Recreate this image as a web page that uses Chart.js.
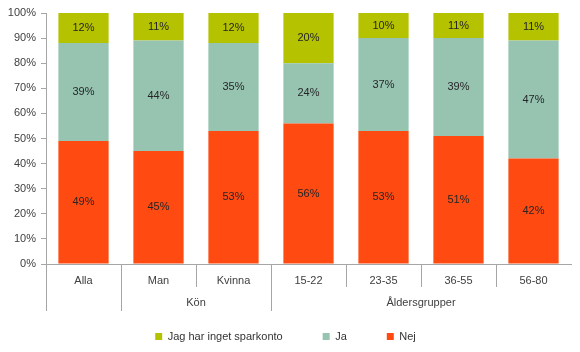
<!DOCTYPE html>
<html>
<head>
<meta charset="utf-8">
<script src="https://cdn.jsdelivr.net/npm/chart.js@4"></script>
<style>
  html, body { margin: 0; padding: 0; background: #fff; }
  #wrap { width: 580px; height: 352px; }
</style>
</head>
<body>
<div id="wrap"><canvas id="myChart" width="580" height="352"></canvas></div>
<script>
const categories = ['Alla', 'Man', 'Kvinna', '15-22', '23-35', '36-55', '56-80'];
const groupLabels = ['', 'Kön', 'Åldersgrupper'];
const groupSpans = [1, 2, 4];

const nejValues = [49, 45, 53, 56, 53, 51, 42];
const jaValues = [39, 44, 35, 24, 37, 39, 47];
const ingetValues = [12, 11, 12, 20, 10, 11, 11];

const FONT = 'Liberation Sans';
const AXIS_GREY = '#a6a6a6';

// values written in the middle of every segment
const barValues = {
  id: 'barValues',
  afterDatasetsDraw(chart) {
    const ctx = chart.ctx;
    ctx.save();
    ctx.font = '11px "' + FONT + '"';
    ctx.fillStyle = '#262626';
    ctx.textAlign = 'center';
    ctx.textBaseline = 'middle';
    chart.data.datasets.forEach((ds, i) => {
      chart.getDatasetMeta(i).data.forEach((bar, j) => {
        const top = Math.max(bar.y, chart.chartArea.top);
        ctx.fillText(ds.data[j] + '%', bar.x, (top + bar.base) / 2);
      });
    });
    ctx.restore();
  }
};

// separators and group names under the category axis
const groupAxis = {
  id: 'groupAxis',
  afterDraw(chart) {
    const xs = chart.scales.x;
    const ctx = chart.ctx;
    const half = (xs.getPixelForValue(1) - xs.getPixelForValue(0)) / 2;
    const y0 = xs.top;
    let starts = [];
    let acc = 0;
    groupSpans.forEach(s => { starts.push(acc); acc += s; });

    ctx.save();
    ctx.strokeStyle = AXIS_GREY;
    ctx.lineWidth = 1;
    for (let i = 0; i < categories.length; i++) {
      const bx = Math.round(xs.getPixelForValue(i) - half) + 0.5;
      const long = starts.includes(i);
      ctx.beginPath();
      ctx.moveTo(bx, y0);
      ctx.lineTo(bx, long ? 311 : 287);
      ctx.stroke();
    }

    ctx.font = '11px "' + FONT + '"';
    ctx.fillStyle = '#404040';
    ctx.textAlign = 'center';
    ctx.textBaseline = 'middle';
    groupLabels.forEach((g, k) => {
      if (!g) return;
      const a = xs.getPixelForValue(starts[k]) - half;
      const b = xs.getPixelForValue(starts[k] + groupSpans[k] - 1) + half;
      ctx.fillText(g, (a + b) / 2, 303);
    });
    ctx.restore();
  }
};

const ctx = document.getElementById('myChart').getContext('2d');

new Chart(ctx, {
  type: 'bar',
  data: {
    labels: categories,
    datasets: [
      { label: 'Nej', data: nejValues, backgroundColor: '#ff4b12' },
      { label: 'Ja', data: jaValues, backgroundColor: '#96c4b1' },
      { label: 'Jag har inget sparkonto', data: ingetValues, backgroundColor: '#b5c200' }
    ]
  },
  options: {
    responsive: false,
    animation: false,
    devicePixelRatio: 1,
    barPercentage: 0.67,
    categoryPercentage: 1,
    layout: { padding: { top: 13, left: 0, right: 9, bottom: 0 } },
    plugins: {
      tooltip: { enabled: false },
      legend: {
        position: 'bottom',
        reverse: true,
        labels: {
          boxWidth: 7,
          boxHeight: 7,
          padding: 40,
          color: '#333',
          font: { family: FONT, size: 11 }
        }
      }
    },
    scales: {
      x: {
        stacked: true,
        grid: { drawOnChartArea: false, drawTicks: false, color: AXIS_GREY },
        border: { color: AXIS_GREY },
        ticks: { padding: 10, color: '#404040', font: { family: FONT, size: 11 }, maxRotation: 0 },
        afterFit(axis) { axis.height = 27; }
      },
      y: {
        stacked: true,
        min: 0,
        max: 100,
        grid: { drawOnChartArea: false, tickLength: 5, color: AXIS_GREY },
        border: { color: AXIS_GREY },
        ticks: {
          stepSize: 10,
          padding: 5,
          color: '#404040',
          font: { family: FONT, size: 11 },
          callback: v => v + '%'
        },
        afterFit(axis) { axis.width = 46; }
      }
    }
  },
  plugins: [barValues, groupAxis]
});
</script>
</body>
</html>
